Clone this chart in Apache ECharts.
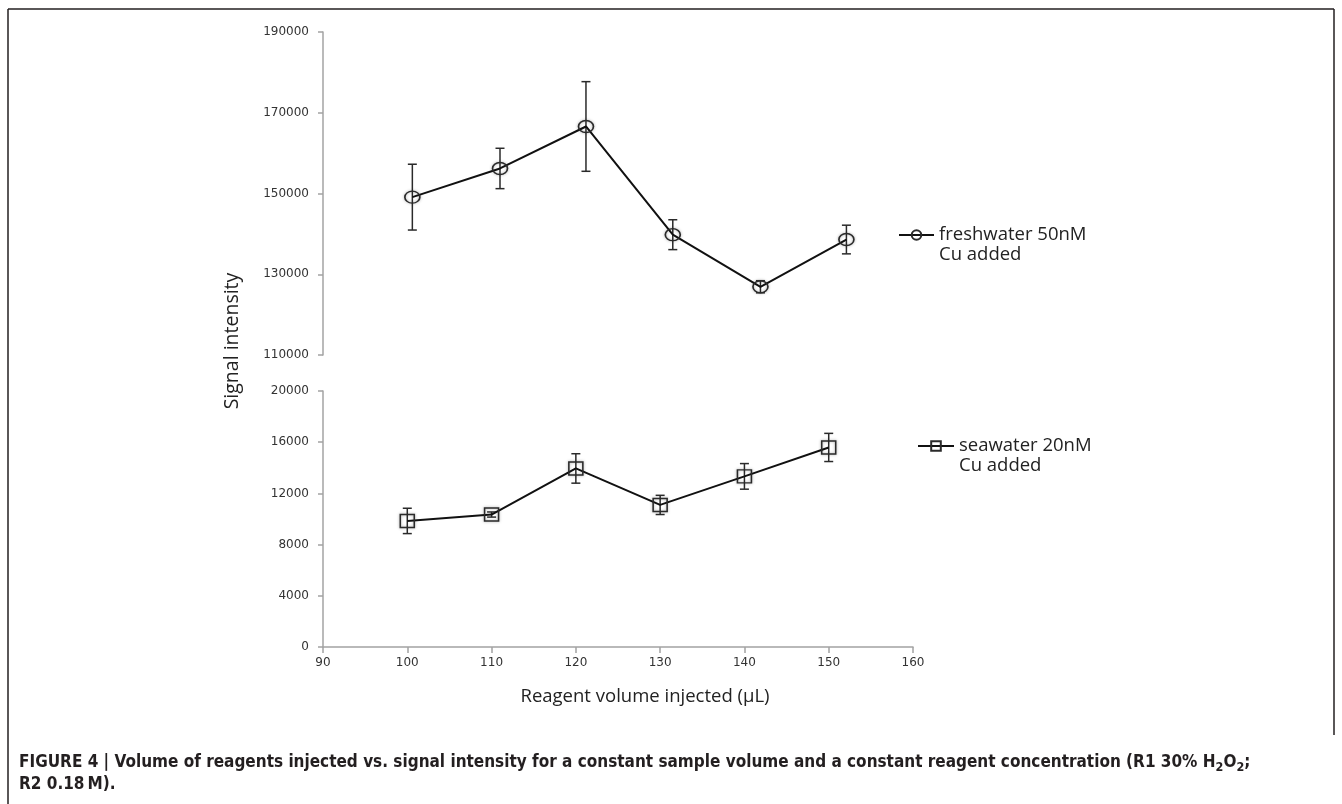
<!DOCTYPE html>
<html>
<head>
<meta charset="utf-8">
<script src="https://cdn.jsdelivr.net/npm/echarts@6/dist/echarts.min.js"></script>
<style>
  html, body { margin: 0; padding: 0; background: #ffffff; }
  #chart { width: 1342px; height: 804px; }
</style>
</head>
<body>
<div id="chart"></div>
<script>
// ---- data ----
const freshName = 'freshwater 50nM';
const freshName2 = 'Cu added';
const freshX = [100.6, 111.0, 121.2, 131.5, 141.9, 152.1];
const freshY = [149100, 156200, 166600, 139800, 126900, 138600];
const freshErr = [8150, 5000, 11100, 3700, 1500, 3550];

const seaName = 'seawater 20nM';
const seaName2 = 'Cu added';
const seaX = [100, 110, 120, 130, 140, 150];
const seaY = [9850, 10350, 13950, 11100, 13330, 15590];
const seaErr = [990, 200, 1150, 750, 1000, 1100];

const xTitle = 'Reagent volume injected (\u00b5L)';
const yTitle = 'Signal intensity';

// ---- build ----
const freshPts = freshX.map((x, i) => [x, freshY[i]]);
const seaPts = seaX.map((x, i) => [x, seaY[i]]);
const freshBars = freshX.map((x, i) => [x, freshY[i] - freshErr[i], freshY[i] + freshErr[i]]);
const seaBars = seaX.map((x, i) => [x, seaY[i] - seaErr[i], seaY[i] + seaErr[i]]);

function errRender(params, api) {
  const x = api.value(0), lo = api.value(1), hi = api.value(2);
  const a = api.coord([x, hi]), b = api.coord([x, lo]);
  const c = 4.5;
  const st = { stroke: '#2a2a2a', lineWidth: 1.5 };
  return {
    type: 'group',
    children: [
      { type: 'line', shape: { x1: a[0], y1: a[1], x2: b[0], y2: b[1] }, style: st },
      { type: 'line', shape: { x1: a[0] - c, y1: a[1], x2: a[0] + c, y2: a[1] }, style: st },
      { type: 'line', shape: { x1: b[0] - c, y1: b[1], x2: b[0] + c, y2: b[1] }, style: st }
    ]
  };
}

const axisLineStyle = { color: '#a3a3a3', width: 1.5 };
const tickLabel = { fontFamily: 'DejaVu Sans', fontSize: 12, color: '#333', formatter: v => String(v) };
const capFont = '"Liberation Sans Narrow", "DejaVu Sans Condensed", sans-serif';

const chart = echarts.init(document.getElementById('chart'), null, { renderer: 'canvas' });
chart.setOption({
  backgroundColor: '#ffffff',
  animation: false,
  title: {
    left: 19, top: 752, padding: 0,
    text: '{b|FIGURE 4 | Volume of reagents injected vs. signal intensity for a constant sample volume and a constant reagent concentration (R1 30% H}{s|2}{b|O}{s|2}{b|;}\n{b|R2 0.18\u2009M).}',
    textStyle: {
      rich: {
        b: { fontFamily: capFont, fontWeight: 'bold', fontSize: 17, color: '#231f20', lineHeight: 22 },
        s: { fontFamily: capFont, fontWeight: 'bold', fontSize: 12.5, color: '#231f20', lineHeight: 22, verticalAlign: 'bottom' }
      }
    }
  },
  legend: [
    {
      data: [freshName], left: 898, top: 205, padding: 0,
      itemWidth: 35, itemHeight: 12,
      formatter: () => '\n' + freshName + '\n' + freshName2,
      textStyle: { fontFamily: 'Open Sans', fontSize: 18.5, color: '#222', lineHeight: 20 }
    },
    {
      data: [seaName], left: 917, top: 416, padding: 0,
      itemWidth: 36, itemHeight: 12,
      formatter: () => '\n' + seaName + '\n' + seaName2,
      textStyle: { fontFamily: 'Open Sans', fontSize: 18.5, color: '#222', lineHeight: 20 }
    }
  ],
  grid: [
    { left: 323, right: 429, top: 32, bottom: 449 },
    { left: 323, right: 429, top: 391, bottom: 157 }
  ],
  xAxis: [
    { gridIndex: 0, type: 'value', min: 90, max: 160, interval: 10, show: false },
    {
      gridIndex: 1, type: 'value', min: 90, max: 160, interval: 10,
      axisLine: { show: true, lineStyle: axisLineStyle },
      axisTick: { show: true, length: 6, lineStyle: axisLineStyle },
      axisLabel: Object.assign({ margin: 10 }, tickLabel),
      splitLine: { show: false },
      name: xTitle, nameLocation: 'middle', nameGap: 40,
      nameTextStyle: { fontFamily: 'Open Sans', fontSize: 18.5, color: '#222', padding: [0, 0, 0, 54] }
    }
  ],
  yAxis: [
    {
      gridIndex: 0, type: 'value', min: 110000, max: 190000, interval: 20000,
      axisLine: { show: true, lineStyle: axisLineStyle },
      axisTick: { show: true, length: 5, lineStyle: axisLineStyle },
      axisLabel: Object.assign({ margin: 14 }, tickLabel),
      splitLine: { show: false }
    },
    {
      gridIndex: 1, type: 'value', min: 0, max: 20000, interval: 4000,
      axisLine: { show: true, lineStyle: axisLineStyle },
      axisTick: { show: true, length: 5, lineStyle: axisLineStyle },
      axisLabel: Object.assign({ margin: 14 }, tickLabel),
      splitLine: { show: false }
    }
  ],
  graphic: [
    { type: 'line', shape: { x1: 8, y1: 9, x2: 1334, y2: 9 }, style: { stroke: '#231f20', lineWidth: 1.5 } },
    { type: 'line', shape: { x1: 8, y1: 9, x2: 8, y2: 804 }, style: { stroke: '#231f20', lineWidth: 1.5 } },
    { type: 'line', shape: { x1: 1334, y1: 9, x2: 1334, y2: 735 }, style: { stroke: '#231f20', lineWidth: 1.5 } },
    {
      type: 'text', x: 232, y: 341, rotation: Math.PI / 2,
      style: { text: yTitle, fontFamily: 'Open Sans', fontSize: 19.5, fill: '#222', textAlign: 'center', textVerticalAlign: 'middle' }
    }
  ],
  series: [
    {
      type: 'custom', xAxisIndex: 0, yAxisIndex: 0, renderItem: errRender,
      data: freshBars, encode: { x: 0, y: [1, 2] }, z: 3, silent: true
    },
    {
      type: 'custom', xAxisIndex: 1, yAxisIndex: 1, renderItem: errRender,
      data: seaBars, encode: { x: 0, y: [1, 2] }, z: 3, silent: true
    },
    {
      name: freshName, type: 'line', xAxisIndex: 0, yAxisIndex: 0, data: freshPts,
      symbol: 'circle', symbolSize: [15, 12], showSymbol: true,
      lineStyle: { color: '#111', width: 2 },
      itemStyle: { color: 'rgba(255,255,255,0)', borderColor: '#2a2a2a', borderWidth: 1.5, shadowBlur: 3, shadowColor: 'rgba(0,0,0,0.35)' },
      z: 4
    },
    {
      name: seaName, type: 'line', xAxisIndex: 1, yAxisIndex: 1, data: seaPts,
      symbol: 'rect', symbolSize: [14, 13], showSymbol: true,
      lineStyle: { color: '#111', width: 2 },
      itemStyle: { color: 'rgba(255,255,255,0)', borderColor: '#2a2a2a', borderWidth: 1.5, shadowBlur: 3, shadowColor: 'rgba(0,0,0,0.35)' },
      z: 4
    }
  ]
});
</script>
</body>
</html>
